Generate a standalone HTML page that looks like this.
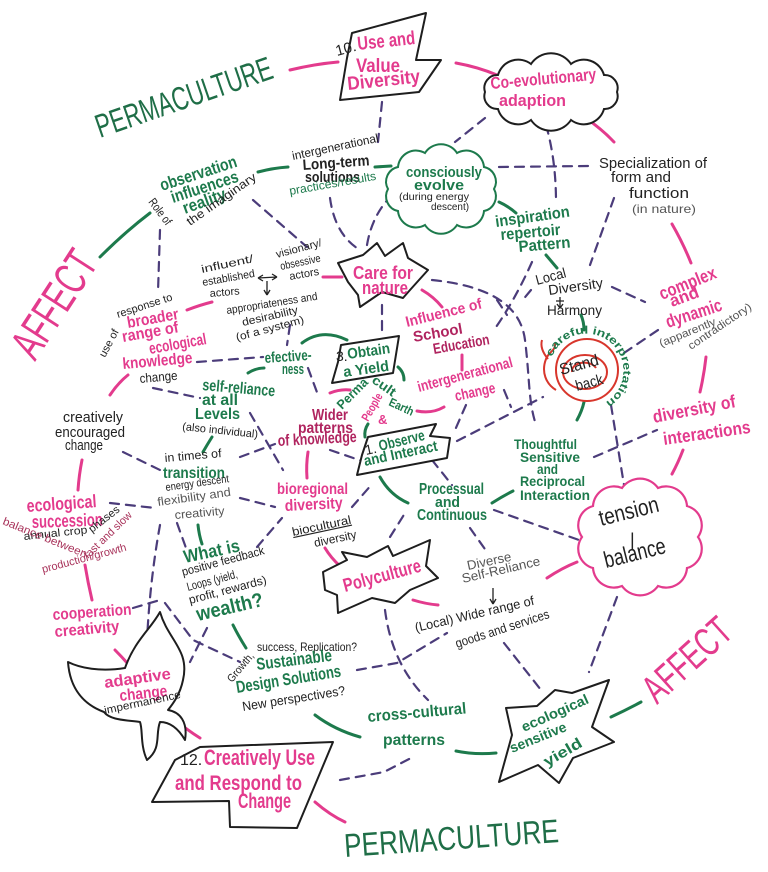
<!DOCTYPE html>
<html><head><meta charset="utf-8">
<style>
html,body{margin:0;padding:0;background:#fff;}
svg{display:block;}
text{font-family:"Liberation Sans",sans-serif;}
.p{fill:#e33b8d;font-weight:bold;}
.m{fill:#b0245f;font-weight:bold;}
.g{fill:#1d7a4c;font-weight:bold;}
.gn{fill:#1d7a4c;}
.k{fill:#222;}
.kb{fill:#222;font-weight:bold;}
.s{fill:#555;}
.r{fill:#a8325a;}
.lp{stroke:#e33b8d;stroke-width:3;fill:none;stroke-linecap:round;}
.lg{stroke:#1d7a4c;stroke-width:3;fill:none;stroke-linecap:round;}
.d{stroke:#4b3c7a;stroke-width:2.2;fill:none;stroke-dasharray:9 7;stroke-linecap:round;}
.box{stroke:#1e1e1e;stroke-width:2;fill:#fff;stroke-linejoin:round;}
.ar{stroke:#222;stroke-width:1.3;fill:none;}
</style></head><body>
<svg width="768" height="872" viewBox="0 0 768 872" xmlns="http://www.w3.org/2000/svg">
<rect width="768" height="872" fill="#fff"/>

<!-- dashed network -->
<g class="d">
<path d="M382,102 L378,142"/>
<path d="M485,118 L455,142"/>
<path d="M546,125 Q556,160 556,202"/>
<path d="M499,167 L588,166"/>
<path d="M614,198 L590,265"/>
<path d="M532,262 Q515,300 494,330"/>
<path d="M432,280 C480,285 520,300 525,340 C530,380 528,400 536,425"/>
<path d="M612,287 L645,302"/>
<path d="M624,353 L661,328"/>
<path d="M611,405 L624,485"/>
<path d="M594,457 L657,430"/>
<path d="M457,441 L543,397"/>
<path d="M466,405 L455,430"/>
<path d="M432,460 L452,485"/>
<path d="M494,510 L579,540"/>
<path d="M470,528 L487,552"/>
<path d="M390,537 L407,510"/>
<path d="M352,507 L373,483"/>
<path d="M385,610 Q392,665 428,700"/>
<path d="M357,670 L397,663 L447,633"/>
<path d="M504,643 L541,690"/>
<path d="M617,597 L589,672"/>
<path d="M340,780 L384,772 L411,758"/>
<path d="M253,200 L307,247"/>
<path d="M160,230 L158,292"/>
<path d="M330,198 Q335,235 360,250"/>
<path d="M367,245 Q372,215 392,195"/>
<path d="M382,305 L382,330"/>
<path d="M197,362 L263,357"/>
<path d="M290,325 L287,345"/>
<path d="M308,368 L318,395"/>
<path d="M250,413 L283,470"/>
<path d="M153,388 L200,398"/>
<path d="M123,452 L160,470"/>
<path d="M110,503 L155,508"/>
<path d="M240,498 L275,507"/>
<path d="M240,457 L275,444"/>
<path d="M330,450 L365,462"/>
<path d="M160,525 Q150,580 147,640"/>
<path d="M133,608 L160,600"/>
<path d="M165,603 L193,640 L240,662"/>
<path d="M207,628 L190,662"/>
<path d="M177,523 L186,548"/>
<path d="M257,547 L282,518"/>
<path d="M531,290 L521,302"/>
<path d="M497,300 L507,315"/>
<path d="M504,390 L511,407"/>
</g>

<!-- pink connectors -->
<g class="lp">
<path d="M290,70 Q315,64 338,62"/>
<path d="M456,63 Q478,67 497,75"/>
<path d="M576,112 Q598,125 614,142"/>
<path d="M672,224 Q683,243 691,263"/>
<path d="M706,357 Q704,375 700,392"/>
<path d="M683,450 Q678,463 672,474"/>
<path d="M547,578 Q562,568 577,562"/>
<path d="M413,600 Q426,604 438,605"/>
<path d="M325,548 Q331,558 340,566"/>
<path d="M308,452 Q306,465 307,478"/>
<path d="M323,277 L342,277"/>
<path d="M422,290 Q434,297 442,307"/>
<path d="M462,355 L462,370"/>
<path d="M417,411 Q432,414 444,407"/>
<path d="M330,393 Q340,389 350,390"/>
<path d="M187,310 Q200,305 212,302"/>
<path d="M110,395 Q118,383 128,375"/>
<path d="M82,460 Q79,475 78,490"/>
<path d="M85,565 Q88,583 92,600"/>
<path d="M115,650 Q125,660 133,670"/>
<path d="M173,718 Q187,730 200,738"/>
<path d="M315,802 Q330,815 345,822"/>
</g>

<!-- green connectors -->
<g class="lg">
<path d="M100,257 Q125,232 150,213"/>
<path d="M258,172 Q273,168 288,167"/>
<path d="M375,167 L391,166"/>
<path d="M499,202 Q508,206 516,213"/>
<path d="M546,255 L557,268"/>
<path d="M581,315 Q584,322 584,330"/>
<path d="M584,402 Q582,411 577,420"/>
<path d="M492,503 Q503,496 513,491"/>
<path d="M380,477 Q390,495 408,503"/>
<path d="M302,343 Q322,328 347,340"/>
<path d="M248,373 Q256,368 264,368"/>
<path d="M212,437 Q207,445 203,452"/>
<path d="M198,525 Q199,535 202,544"/>
<path d="M233,625 Q239,637 246,648"/>
<path d="M315,715 Q335,730 360,737"/>
<path d="M456,751 Q475,755 496,753"/>
<path d="M611,717 Q626,710 641,702"/>
<path d="M398,367 Q404,372 404,380"/>
<path d="M368,424 Q364,430 365,437"/>
</g>

<!-- shapes -->
<polygon class="box" points="352,33 426,13 416,60 441,60 419,92 340,100 347,58"/>
<path fill="#fff" stroke="#1e1e1e" stroke-width="2" d="M617,92 A13,13 0 0 1 604,109 A21,21 0 0 1 571,120 A24,24 0 0 1 531,120 A21,21 0 0 1 498,109 A13,13 0 0 1 485,92 A13,13 0 0 1 498,75 A21,21 0 0 1 531,64 A24,24 0 0 1 571,64 A21,21 0 0 1 604,75 A13,13 0 0 1 617,92 Z"/>
<path fill="#fff" stroke="#1d7a4c" stroke-width="2" d="M494,189 A15,15 0 0 1 484,211 A18,18 0 0 1 457,225 A19,19 0 0 1 425,225 A18,18 0 0 1 398,211 A15,15 0 0 1 388,189 A15,15 0 0 1 398,167 A18,18 0 0 1 425,153 A19,19 0 0 1 457,153 A18,18 0 0 1 484,167 A15,15 0 0 1 494,189 Z"/>
<path fill="#fff" stroke="#e33b8d" stroke-width="2.2" d="M698,537 A20,20 0 0 1 687,568 A21,21 0 0 1 658,586 A22,22 0 0 1 622,586 A21,21 0 0 1 593,568 A20,20 0 0 1 582,537 A20,20 0 0 1 593,506 A21,21 0 0 1 622,488 A22,22 0 0 1 658,488 A21,21 0 0 1 687,506 A20,20 0 0 1 698,537 Z"/>
<polygon class="box" points="338,263 363,255 377,243 385,256 403,243 408,258 428,270 410,290 403,298 382,292 360,307 358,295 348,282"/>
<polygon class="box" points="341,345 399,336 393,373 332,383 338,362"/>
<polygon class="box" points="368,437 436,424 430,436 450,438 447,458 357,475 362,455"/>
<polygon class="box" points="323,572 347,560 342,552 367,557 388,546 393,556 430,540 426,566 438,578 410,590 395,603 372,598 338,613 337,595 325,590"/>
<polygon class="box" points="506,708 537,706 555,690 572,693 609,680 592,727 614,742 573,758 559,783 538,765 499,782 512,735"/>
<polygon class="box" points="200,747 333,742 297,828 230,827 229,801 152,802 175,760"/>
<path class="box" d="M68,662 C80,668 100,672 125,668 C135,640 150,630 160,612 C168,640 190,650 183,680 C180,695 172,705 168,710 C180,712 188,722 185,740 C178,728 170,722 160,722 C155,735 162,748 147,760 C140,745 143,730 140,722 C125,720 110,720 104,712 C85,705 70,690 68,662 Z"/>

<!-- snail -->
<g stroke="#d8362c" stroke-width="2" fill="none">
<circle cx="587" cy="370" r="31" fill="#fff"/>
<ellipse cx="585" cy="372" rx="22" ry="17"/>
<path d="M572,372 C571,362 590,359 596,368"/>
<path d="M556,390 C546,384 541,372 546,359 C549,351 556,351 555,343"/>
<path d="M548,359 C543,353 540,347 542,340"/>
</g>
<path id="snailarc" d="M552,357 A37,37 0 1 1 600,405" fill="none"/>
<text class="gn" font-size="11" font-weight="bold"><textPath href="#snailarc" textLength="140" lengthAdjust="spacingAndGlyphs">careful interpretation</textPath></text>

<!-- arrows -->
<g class="ar">
<path d="M258,278 L277,277 M258,278 l5,-3 M258,278 l5,3 M277,277 l-5,-3 M277,277 l-5,3"/>
<path d="M267,281 L267,295 M267,295 l-3,-5 M267,295 l3,-5"/>
<path d="M560,297 L560,308 M556,301 L564,301 M560,308 l-3,-4 M560,308 l3,-4"/>
<path d="M493,588 L493,604 M493,604 l-3,-5 M493,604 l3,-5"/>
</g>

<g>
<!-- big titles -->
<text x="100" y="138" font-size="33" fill="#1f6e47" textLength="185" lengthAdjust="spacingAndGlyphs" transform="rotate(-19 100 138)">PERMACULTURE</text>
<text x="345" y="857" font-size="33" fill="#1f6e47" textLength="215" lengthAdjust="spacingAndGlyphs" transform="rotate(-4 345 857)">PERMACULTURE</text>
<text x="35" y="362" font-size="46" fill="#e33b8d" textLength="118" lengthAdjust="spacingAndGlyphs" transform="rotate(-57 35 362)">AFFECT</text>
<text x="657" y="705" font-size="40" fill="#e33b8d" textLength="105" lengthAdjust="spacingAndGlyphs" transform="rotate(-42 657 705)">AFFECT</text>

<!-- box 10 -->
<text class="k" x="337" y="56" font-size="15" transform="rotate(-15 337 56)">10.</text>
<text class="p" x="358" y="50" font-size="19" textLength="58" lengthAdjust="spacingAndGlyphs" transform="rotate(-6 358 50)">Use and</text>
<text class="p" x="356" y="72" font-size="19" textLength="44" lengthAdjust="spacingAndGlyphs">Value</text>
<text class="p" x="348" y="90" font-size="19" textLength="73" lengthAdjust="spacingAndGlyphs" transform="rotate(-6 348 90)">Diversity</text>

<!-- coevolution -->
<text class="p" x="491" y="89" font-size="17" textLength="106" lengthAdjust="spacingAndGlyphs" transform="rotate(-5 491 89)">Co-evolutionary</text>
<text class="p" x="499" y="106" font-size="17" textLength="67" lengthAdjust="spacingAndGlyphs">adaption</text>

<!-- consciously -->
<text class="g" x="406" y="177" font-size="15" textLength="76" lengthAdjust="spacingAndGlyphs">consciously</text>
<text class="g" x="414" y="190" font-size="15" textLength="50" lengthAdjust="spacingAndGlyphs">evolve</text>
<text class="k" x="399" y="200" font-size="10" textLength="70" lengthAdjust="spacingAndGlyphs">(during energy</text>
<text class="k" x="431" y="210" font-size="10" textLength="38" lengthAdjust="spacingAndGlyphs">descent)</text>

<!-- specialization -->
<text class="k" x="599" y="168" font-size="15" textLength="108" lengthAdjust="spacingAndGlyphs">Specialization of</text>
<text class="k" x="611" y="182" font-size="15" textLength="60" lengthAdjust="spacingAndGlyphs">form and</text>
<text class="k" x="629" y="198" font-size="15" textLength="60" lengthAdjust="spacingAndGlyphs">function</text>
<text class="s" x="632" y="213" font-size="12" textLength="64" lengthAdjust="spacingAndGlyphs">(in nature)</text>

<!-- complex -->
<text class="p" x="662" y="300" font-size="18" textLength="60" lengthAdjust="spacingAndGlyphs" transform="rotate(-22 662 300)">complex</text>
<text class="p" x="672" y="307" font-size="17" textLength="30" lengthAdjust="spacingAndGlyphs" transform="rotate(-20 672 307)">and</text>
<text class="p" x="668" y="328" font-size="18" textLength="58" lengthAdjust="spacingAndGlyphs" transform="rotate(-18 668 328)">dynamic</text>
<text class="s" x="661" y="347" font-size="11" textLength="60" lengthAdjust="spacingAndGlyphs" transform="rotate(-22 661 347)">(apparently</text>
<text class="s" x="691" y="350" font-size="11" textLength="74" lengthAdjust="spacingAndGlyphs" transform="rotate(-34 691 350)">contradictory)</text>

<!-- diversity of interactions -->
<text class="p" x="654" y="423" font-size="18" textLength="84" lengthAdjust="spacingAndGlyphs" transform="rotate(-11 654 423)">diversity of</text>
<text class="p" x="664" y="445" font-size="18" textLength="88" lengthAdjust="spacingAndGlyphs" transform="rotate(-8 664 445)">interactions</text>

<!-- tension -->
<text class="k" x="601" y="526" font-size="23" textLength="61" lengthAdjust="spacingAndGlyphs" transform="rotate(-14 601 526)">tension</text>
<text class="k" x="630" y="546" font-size="18">|</text>
<text class="k" x="606" y="568" font-size="23" textLength="63" lengthAdjust="spacingAndGlyphs" transform="rotate(-14 606 568)">balance</text>

<!-- snail text -->
<text class="k" x="561" y="375" font-size="16" textLength="40" lengthAdjust="spacingAndGlyphs" transform="rotate(-15 561 375)">Stand</text>
<text class="k" x="577" y="391" font-size="15" textLength="28" lengthAdjust="spacingAndGlyphs" transform="rotate(-15 577 391)">back</text>

<!-- local diversity -->
<text class="k" x="537" y="285" font-size="14" textLength="31" lengthAdjust="spacingAndGlyphs" transform="rotate(-15 537 285)">Local</text>
<text class="k" x="549" y="295" font-size="14" textLength="55" lengthAdjust="spacingAndGlyphs" transform="rotate(-8 549 295)">Diversity</text>
<text class="k" x="547" y="315" font-size="14" textLength="55" lengthAdjust="spacingAndGlyphs">Harmony</text>

<!-- inspiration -->
<text class="g" x="496" y="227" font-size="16" textLength="75" lengthAdjust="spacingAndGlyphs" transform="rotate(-8 496 227)">inspiration</text>
<text class="g" x="501" y="240" font-size="16" textLength="60" lengthAdjust="spacingAndGlyphs" transform="rotate(-5 501 240)">repertoir</text>
<text class="g" x="519" y="252" font-size="16" textLength="52" lengthAdjust="spacingAndGlyphs" transform="rotate(-5 519 252)">Pattern</text>

<!-- thoughtful -->
<text class="g" x="514" y="449" font-size="14" textLength="63" lengthAdjust="spacingAndGlyphs">Thoughtful</text>
<text class="g" x="520" y="462" font-size="14" textLength="60" lengthAdjust="spacingAndGlyphs">Sensitive</text>
<text class="g" x="537" y="474" font-size="14" textLength="21" lengthAdjust="spacingAndGlyphs">and</text>
<text class="g" x="520" y="486" font-size="14" textLength="65" lengthAdjust="spacingAndGlyphs">Reciprocal</text>
<text class="g" x="520" y="500" font-size="14" textLength="70" lengthAdjust="spacingAndGlyphs">Interaction</text>

<!-- processual -->
<text class="g" x="419" y="494" font-size="16" textLength="65" lengthAdjust="spacingAndGlyphs">Processual</text>
<text class="g" x="435" y="507" font-size="15" textLength="25" lengthAdjust="spacingAndGlyphs">and</text>
<text class="g" x="417" y="520" font-size="16" textLength="70" lengthAdjust="spacingAndGlyphs">Continuous</text>

<!-- observe -->
<text class="k" x="366" y="455" font-size="14" transform="rotate(-12 366 455)">1.</text>
<text class="g" x="380" y="451" font-size="15" textLength="47" lengthAdjust="spacingAndGlyphs" transform="rotate(-14 380 451)">Observe</text>
<text class="g" x="365" y="466" font-size="15" textLength="75" lengthAdjust="spacingAndGlyphs" transform="rotate(-12 365 466)">and Interact</text>

<!-- center cluster -->
<text class="g" x="342" y="410" font-size="13" textLength="38" lengthAdjust="spacingAndGlyphs" transform="rotate(-45 342 410)">Perma</text>
<text class="g" x="371" y="382" font-size="13" textLength="26" lengthAdjust="spacingAndGlyphs" transform="rotate(35 371 382)">cult</text>
<text class="p" x="368" y="422" font-size="12" textLength="30" lengthAdjust="spacingAndGlyphs" transform="rotate(-60 368 422)">People</text>
<text class="p" x="378" y="424" font-size="13">&amp;</text>
<text class="g" x="388" y="405" font-size="12" textLength="26" lengthAdjust="spacingAndGlyphs" transform="rotate(25 388 405)">Earth</text>

<!-- obtain -->
<text class="k" x="336" y="361" font-size="14">3.</text>
<text class="g" x="348" y="359" font-size="15" textLength="43" lengthAdjust="spacingAndGlyphs" transform="rotate(-8 348 359)">Obtain</text>
<text class="g" x="344" y="377" font-size="15" textLength="46" lengthAdjust="spacingAndGlyphs" transform="rotate(-8 344 377)">a Yield</text>

<!-- effectiveness / self reliance -->
<text class="g" x="265" y="363" font-size="15" textLength="47" lengthAdjust="spacingAndGlyphs" transform="rotate(-4 265 363)">efective-</text>
<text class="g" x="282" y="374" font-size="15" textLength="22" lengthAdjust="spacingAndGlyphs">ness</text>
<text class="g" x="202" y="390" font-size="16" textLength="73" lengthAdjust="spacingAndGlyphs" transform="rotate(5 202 390)">self-reliance</text>
<text class="g" x="202" y="405" font-size="16" textLength="36" lengthAdjust="spacingAndGlyphs">at all</text>
<text class="g" x="195" y="419" font-size="16" textLength="45" lengthAdjust="spacingAndGlyphs">Levels</text>
<text class="k" x="182" y="430" font-size="11" textLength="76" lengthAdjust="spacingAndGlyphs" transform="rotate(6 182 430)">(also individual)</text>

<!-- wider patterns -->
<text class="m" x="312" y="420" font-size="16" textLength="36" lengthAdjust="spacingAndGlyphs">Wider</text>
<text class="m" x="298" y="433" font-size="16" textLength="55" lengthAdjust="spacingAndGlyphs">patterns</text>
<text class="m" x="278" y="446" font-size="16" textLength="79" lengthAdjust="spacingAndGlyphs" transform="rotate(-3 278 446)">of knowledge</text>

<!-- bioregional -->
<text class="p" x="277" y="494" font-size="16" textLength="71" lengthAdjust="spacingAndGlyphs">bioregional</text>
<text class="p" x="285" y="511" font-size="16" textLength="58" lengthAdjust="spacingAndGlyphs" transform="rotate(-3 285 511)">diversity</text>
<text class="k" x="293" y="536" font-size="12" textLength="60" lengthAdjust="spacingAndGlyphs" text-decoration="underline" transform="rotate(-12 293 536)">biocultural</text>
<text class="k" x="315" y="547" font-size="12" textLength="43" lengthAdjust="spacingAndGlyphs" transform="rotate(-12 315 547)">diversity</text>

<!-- influence -->
<text class="p" x="407" y="327" font-size="15" textLength="78" lengthAdjust="spacingAndGlyphs" transform="rotate(-14 407 327)">Influence of</text>
<text class="m" x="414" y="342" font-size="15" textLength="50" lengthAdjust="spacingAndGlyphs" transform="rotate(-10 414 342)">School</text>
<text class="m" x="434" y="354" font-size="15" textLength="57" lengthAdjust="spacingAndGlyphs" transform="rotate(-10 434 354)">Education</text>
<text class="p" x="419" y="392" font-size="15" textLength="98" lengthAdjust="spacingAndGlyphs" transform="rotate(-15 419 392)">intergenerational</text>
<text class="p" x="456" y="401" font-size="15" textLength="41" lengthAdjust="spacingAndGlyphs" transform="rotate(-12 456 401)">change</text>

<!-- care for nature -->
<text class="p" x="353" y="279" font-size="18" textLength="60" lengthAdjust="spacingAndGlyphs">Care for</text>
<text class="p" x="362" y="294" font-size="18" textLength="46" lengthAdjust="spacingAndGlyphs">nature</text>

<!-- actors cluster -->
<text class="k" x="202" y="273" font-size="11" textLength="53" lengthAdjust="spacingAndGlyphs" transform="rotate(-12 202 273)">influent/</text>
<text class="k" x="203" y="286" font-size="11" textLength="53" lengthAdjust="spacingAndGlyphs" transform="rotate(-10 203 286)">established</text>
<text class="k" x="210" y="297" font-size="11" textLength="30" lengthAdjust="spacingAndGlyphs" transform="rotate(-5 210 297)">actors</text>
<text class="k" x="277" y="258" font-size="11" textLength="47" lengthAdjust="spacingAndGlyphs" transform="rotate(-15 277 258)">visionary/</text>
<text class="k" x="281" y="270" font-size="11" textLength="41" lengthAdjust="spacingAndGlyphs" transform="rotate(-12 281 270)">obsessive</text>
<text class="k" x="290" y="280" font-size="11" textLength="30" lengthAdjust="spacingAndGlyphs" transform="rotate(-10 290 280)">actors</text>
<text class="k" x="227" y="314" font-size="11" textLength="92" lengthAdjust="spacingAndGlyphs" transform="rotate(-9 227 314)">appropriateness and</text>
<text class="k" x="243" y="326" font-size="11" textLength="57" lengthAdjust="spacingAndGlyphs" transform="rotate(-13 243 326)">desirability</text>
<text class="k" x="237" y="341" font-size="11" textLength="70" lengthAdjust="spacingAndGlyphs" transform="rotate(-15 237 341)">(of a system)</text>

<!-- broader range -->
<text class="k" x="105" y="358" font-size="11" textLength="30" lengthAdjust="spacingAndGlyphs" transform="rotate(-62 105 358)">use of</text>
<text class="k" x="118" y="318" font-size="11" textLength="58" lengthAdjust="spacingAndGlyphs" transform="rotate(-18 118 318)">response to</text>
<text class="p" x="128" y="328" font-size="16" textLength="52" lengthAdjust="spacingAndGlyphs" transform="rotate(-10 128 328)">broader</text>
<text class="p" x="123" y="342" font-size="16" textLength="57" lengthAdjust="spacingAndGlyphs" transform="rotate(-10 123 342)">range of</text>
<text class="p" x="150" y="354" font-size="16" textLength="58" lengthAdjust="spacingAndGlyphs" transform="rotate(-10 150 354)">ecological</text>
<text class="p" x="123" y="369" font-size="16" textLength="70" lengthAdjust="spacingAndGlyphs" transform="rotate(-5 123 369)">knowledge</text>
<text class="k" x="140" y="383" font-size="13" textLength="38" lengthAdjust="spacingAndGlyphs" transform="rotate(-5 140 383)">change</text>

<!-- creatively encouraged -->
<text class="k" x="63" y="422" font-size="15" textLength="60" lengthAdjust="spacingAndGlyphs">creatively</text>
<text class="k" x="55" y="437" font-size="15" textLength="70" lengthAdjust="spacingAndGlyphs">encouraged</text>
<text class="k" x="65" y="450" font-size="15" textLength="38" lengthAdjust="spacingAndGlyphs">change</text>

<!-- ecological succession -->
<text class="p" x="27" y="512" font-size="18" textLength="70" lengthAdjust="spacingAndGlyphs" transform="rotate(-4 27 512)">ecological</text>
<text class="p" x="32" y="528" font-size="18" textLength="71" lengthAdjust="spacingAndGlyphs" transform="rotate(-2 32 528)">succession</text>
<text class="k" x="24" y="540" font-size="11" textLength="64" lengthAdjust="spacingAndGlyphs" transform="rotate(-6 24 540)">annual crop</text>
<text class="k" x="92" y="533" font-size="11" textLength="36" lengthAdjust="spacingAndGlyphs" transform="rotate(-38 92 533)">phases</text>
<text class="r" x="2" y="524" font-size="11" textLength="90" lengthAdjust="spacingAndGlyphs" transform="rotate(22 2 524)">balance between</text>
<text class="r" x="88" y="559" font-size="11" textLength="62" lengthAdjust="spacingAndGlyphs" transform="rotate(-44 88 559)">fast and slow</text>
<text class="r" x="43" y="573" font-size="11" textLength="87" lengthAdjust="spacingAndGlyphs" transform="rotate(-15 43 573)">production/growth</text>

<!-- transition -->
<text class="k" x="165" y="462" font-size="12" textLength="57" lengthAdjust="spacingAndGlyphs" transform="rotate(-5 165 462)">in times of</text>
<text class="g" x="163" y="478" font-size="16" textLength="62" lengthAdjust="spacingAndGlyphs">transition</text>
<text class="k" x="166" y="491" font-size="11" textLength="64" lengthAdjust="spacingAndGlyphs" transform="rotate(-8 166 491)">energy descent</text>
<text class="s" x="158" y="506" font-size="12" textLength="74" lengthAdjust="spacingAndGlyphs" transform="rotate(-8 158 506)">flexibility and</text>
<text class="s" x="175" y="519" font-size="12" textLength="50" lengthAdjust="spacingAndGlyphs" transform="rotate(-5 175 519)">creativity</text>

<!-- what is wealth -->
<text class="g" x="185" y="563" font-size="18" textLength="57" lengthAdjust="spacingAndGlyphs" transform="rotate(-12 185 563)">What is</text>
<text class="k" x="183" y="576" font-size="12" textLength="85" lengthAdjust="spacingAndGlyphs" transform="rotate(-15 183 576)">positive feedback</text>
<text class="k" x="188" y="591" font-size="12" textLength="52" lengthAdjust="spacingAndGlyphs" transform="rotate(-15 188 591)">Loops (yield,</text>
<text class="k" x="190" y="604" font-size="12" textLength="80" lengthAdjust="spacingAndGlyphs" transform="rotate(-15 190 604)">profit, rewards)</text>
<text class="g" x="198" y="621" font-size="20" textLength="68" lengthAdjust="spacingAndGlyphs" transform="rotate(-13 198 621)">wealth?</text>

<!-- sustainable -->
<text class="k" x="232" y="683" font-size="11" textLength="35" lengthAdjust="spacingAndGlyphs" transform="rotate(-50 232 683)">Growth,</text>
<text class="k" x="257" y="651" font-size="12" textLength="100" lengthAdjust="spacingAndGlyphs">success, Replication?</text>
<text class="g" x="257" y="670" font-size="17" textLength="76" lengthAdjust="spacingAndGlyphs" transform="rotate(-7 257 670)">Sustainable</text>
<text class="g" x="237" y="693" font-size="17" textLength="106" lengthAdjust="spacingAndGlyphs" transform="rotate(-9 237 693)">Design Solutions</text>
<text class="k" x="243" y="711" font-size="13" textLength="104" lengthAdjust="spacingAndGlyphs" transform="rotate(-9 243 711)">New perspectives?</text>

<!-- cross cultural -->
<text class="g" x="368" y="722" font-size="16" textLength="99" lengthAdjust="spacingAndGlyphs" transform="rotate(-5 368 722)">cross-cultural</text>
<text class="g" x="383" y="745" font-size="16" textLength="62" lengthAdjust="spacingAndGlyphs">patterns</text>

<!-- eco yield -->
<text class="g" x="524" y="732" font-size="14" textLength="72" lengthAdjust="spacingAndGlyphs" transform="rotate(-24 524 732)">ecological</text>
<text class="g" x="512" y="753" font-size="14" textLength="60" lengthAdjust="spacingAndGlyphs" transform="rotate(-22 512 753)">sensitive</text>
<text class="g" x="547" y="767" font-size="15" textLength="42" lengthAdjust="spacingAndGlyphs" transform="rotate(-30 547 767)">yield</text>

<!-- polyculture -->
<text class="p" x="345" y="592" font-size="19" textLength="80" lengthAdjust="spacingAndGlyphs" transform="rotate(-15 345 592)">Polyculture</text>

<!-- diverse self reliance -->
<text class="s" x="468" y="570" font-size="13" textLength="45" lengthAdjust="spacingAndGlyphs" transform="rotate(-12 468 570)">Diverse</text>
<text class="s" x="463" y="583" font-size="13" textLength="80" lengthAdjust="spacingAndGlyphs" transform="rotate(-13 463 583)">Self-Reliance</text>
<text class="k" x="416" y="632" font-size="13" textLength="122" lengthAdjust="spacingAndGlyphs" transform="rotate(-13 416 632)">(Local) Wide range of</text>
<text class="k" x="457" y="648" font-size="13" textLength="98" lengthAdjust="spacingAndGlyphs" transform="rotate(-18 457 648)">goods and services</text>

<!-- box 12 -->
<text class="k" x="180" y="765" font-size="16">12.</text>
<text class="p" x="204" y="765" font-size="22" textLength="111" lengthAdjust="spacingAndGlyphs">Creatively Use</text>
<text class="p" x="175" y="790" font-size="21" textLength="127" lengthAdjust="spacingAndGlyphs">and Respond to</text>
<text class="p" x="238" y="808" font-size="21" textLength="53" lengthAdjust="spacingAndGlyphs">Change</text>

<!-- flame -->
<text class="p" x="105" y="688" font-size="16" textLength="67" lengthAdjust="spacingAndGlyphs" transform="rotate(-8 105 688)">adaptive</text>
<text class="p" x="120" y="701" font-size="16" textLength="48" lengthAdjust="spacingAndGlyphs" transform="rotate(-6 120 701)">change</text>
<text class="k" x="105" y="714" font-size="11" textLength="78" lengthAdjust="spacingAndGlyphs" transform="rotate(-12 105 714)">impermanence</text>

<!-- cooperation -->
<text class="p" x="53" y="620" font-size="16" textLength="79" lengthAdjust="spacingAndGlyphs" transform="rotate(-4 53 620)">cooperation</text>
<text class="p" x="55" y="637" font-size="16" textLength="65" lengthAdjust="spacingAndGlyphs" transform="rotate(-5 55 637)">creativity</text>

<!-- observation -->
<text class="g" x="162" y="191" font-size="17" textLength="80" lengthAdjust="spacingAndGlyphs" transform="rotate(-18 162 191)">observation</text>
<text class="g" x="173" y="203" font-size="17" textLength="70" lengthAdjust="spacingAndGlyphs" transform="rotate(-18 173 203)">influences</text>
<text class="g" x="185" y="214" font-size="17" textLength="45" lengthAdjust="spacingAndGlyphs" transform="rotate(-20 185 214)">reality</text>
<text class="k" x="148" y="202" font-size="12" textLength="30" lengthAdjust="spacingAndGlyphs" transform="rotate(53 148 202)">Role of</text>
<text class="k" x="190" y="226" font-size="12" textLength="82" lengthAdjust="spacingAndGlyphs" transform="rotate(-35 190 226)">the imaginary</text>

<!-- long-term -->
<text class="k" x="293" y="160" font-size="12" textLength="88" lengthAdjust="spacingAndGlyphs" transform="rotate(-12 293 160)">intergenerational</text>
<text class="kb" x="303" y="170" font-size="15" textLength="67" lengthAdjust="spacingAndGlyphs" transform="rotate(-4 303 170)">Long-term</text>
<text class="kb" x="305" y="182" font-size="15" textLength="55" lengthAdjust="spacingAndGlyphs">solutions</text>
<text class="gn" x="290" y="195" font-size="12" textLength="88" lengthAdjust="spacingAndGlyphs" transform="rotate(-10 290 195)">practices/results</text>
</g>
</svg>
</body></html>
